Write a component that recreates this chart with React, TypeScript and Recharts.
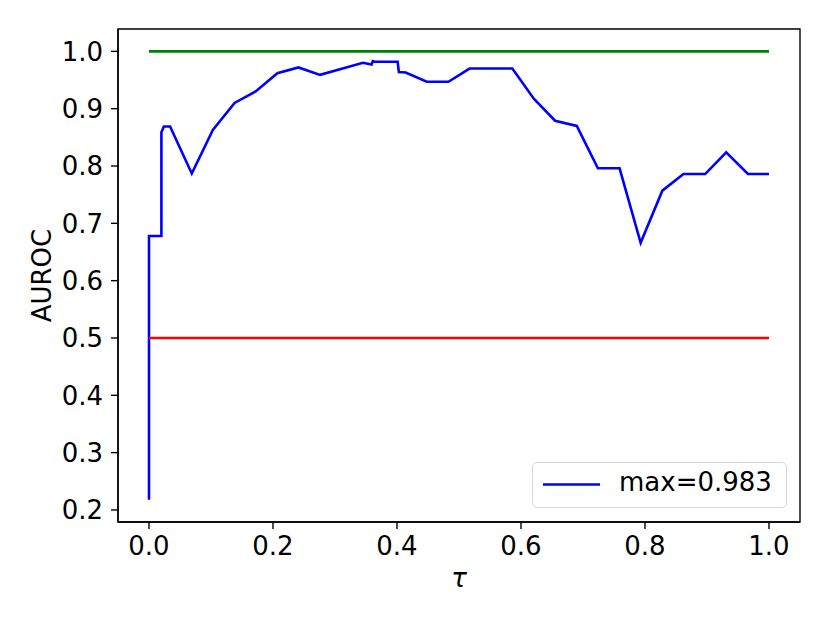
import React from "react";
import { LineChart, Line, XAxis, YAxis, Legend, ReferenceArea } from "recharts";

// tau grid and AUROC values
const tau = [
  0, 0, 0.02, 0.02, 0.024, 0.034, 0.069, 0.103, 0.138, 0.172, 0.207, 0.241, 0.276, 0.345, 0.359, 0.361,
  0.364, 0.401, 0.403, 0.414, 0.448, 0.483, 0.517, 0.552, 0.586, 0.621, 0.655, 0.69, 0.724, 0.759, 0.793,
  0.828, 0.862, 0.897, 0.931, 0.966, 1.0,
];
const auroc = [
  0.218, 0.678, 0.678, 0.859, 0.869, 0.869, 0.787, 0.863, 0.91, 0.93, 0.962, 0.972, 0.959, 0.98, 0.977, 0.983,
  0.982, 0.982, 0.964, 0.963, 0.947, 0.947, 0.97, 0.97, 0.97, 0.917, 0.879, 0.87, 0.796, 0.796, 0.666,
  0.757, 0.786, 0.786, 0.824, 0.786, 0.786,
];
const perfectLine = [1.0, 1.0];
const randomLine = [0.5, 0.5];
const baseTau = [0, 1];

const xTicks = [0, 0.2, 0.4, 0.6, 0.8, 1.0];
const yTicks = [0.2, 0.3, 0.4, 0.5, 0.6, 0.7, 0.8, 0.9, 1.0];
const legendLabel = "max=0.983";

// matplotlib-style auto limits (5% margin)
const xDomain = [-0.05, 1.05];
const yDomain = [0.179, 1.039];

const curve = tau.map((t, i) => ({ tau: t, v: auroc[i] }));
const perfect = baseTau.map((t, i) => ({ tau: t, v: perfectLine[i] }));
const random = baseTau.map((t, i) => ({ tau: t, v: randomLine[i] }));

const FONT = "DejaVu Sans";
const FS = 26;
const LW = 2.6;

function LegendBox() {
  return (
    <div
      style={{
        width: 255,
        height: 46,
        boxSizing: "border-box",
        border: "1.3px solid #d6d6d6",
        borderRadius: 5,
        background: "rgba(255,255,255,0.8)",
        position: "relative",
        fontFamily: FONT,
      }}
    >
      <svg width={70} height={46} style={{ position: "absolute", left: 0, top: 0 }}>
        <line x1={10} x2={67} y1={21.5} y2={21.5} stroke="#0000ff" strokeWidth={LW} />
      </svg>
      <span
        style={{
          position: "absolute",
          left: 86,
          top: 4,
          fontSize: FS,
          lineHeight: "30px",
          color: "#000",
          whiteSpace: "nowrap",
        }}
      >
        {legendLabel}
      </span>
    </div>
  );
}

export default function App() {
  return (
    <div style={{ position: "absolute", left: 0, top: 0, background: "#fff" }}>
      <LineChart width={830} height={623} margin={{ top: 29, right: 30, bottom: 0, left: 0 }}>
        <XAxis
          dataKey="tau"
          type="number"
          domain={xDomain}
          ticks={xTicks}
          tickFormatter={(v: number) => v.toFixed(1)}
          allowDuplicatedCategory={false}
          height={101}
          tickSize={7}
          tickMargin={8}
          stroke="#000"
          axisLine={{ stroke: "#000", strokeWidth: 1.4 }}
          tickLine={{ stroke: "#000", strokeWidth: 1.4 }}
          tick={{ fill: "#000", fontSize: FS, fontFamily: FONT }}
          label={({ viewBox }: any) => (
            <text
              x={viewBox.x + viewBox.width / 2}
              y={viewBox.y + 65}
              textAnchor="middle"
              fontSize={FS}
              fontFamily={FONT}
              fontStyle="italic"
              fill="#000"
            >
              τ
            </text>
          )}
        />
        <YAxis
          dataKey="v"
          type="number"
          domain={yDomain}
          ticks={yTicks}
          tickFormatter={(v: number) => v.toFixed(1)}
          width={118}
          tickSize={7}
          tickMargin={8}
          axisLine={{ stroke: "#000", strokeWidth: 1.4 }}
          tickLine={{ stroke: "#000", strokeWidth: 1.4 }}
          tick={{ fill: "#000", fontSize: FS, fontFamily: FONT }}
          label={({ viewBox }: any) => {
            const cy = viewBox.y + viewBox.height / 2;
            return (
              <text
                x={51}
                y={cy}
                transform={`rotate(-90, 51, ${cy})`}
                textAnchor="middle"
                fontSize={FS}
                fontFamily={FONT}
                fill="#000"
              >
                AUROC
              </text>
            );
          }}
        />
        <Line
          data={curve}
          dataKey="v"
          name={legendLabel}
          stroke="#0000ff"
          strokeWidth={LW}
          dot={false}
          activeDot={false}
          isAnimationActive={false}
        />
        <Line
          data={perfect}
          dataKey="v"
          legendType="none"
          stroke="#008000"
          strokeWidth={LW}
          dot={false}
          activeDot={false}
          isAnimationActive={false}
        />
        <Line
          data={random}
          dataKey="v"
          legendType="none"
          stroke="#ff0000"
          strokeWidth={LW}
          dot={false}
          activeDot={false}
          isAnimationActive={false}
        />
        {/* axes frame */}
        <ReferenceArea
          x1={xDomain[0]}
          x2={xDomain[1]}
          y1={yDomain[0]}
          y2={yDomain[1]}
          fill="none"
          fillOpacity={0}
          stroke="#000"
          strokeWidth={1.4}
          ifOverflow="visible"
        />
        <Legend
          layout="horizontal"
          verticalAlign="middle"
          align="center"
          content={() => <LegendBox />}
          wrapperStyle={{ position: "absolute", left: 532, top: 462, width: 255, height: 46 }}
        />
      </LineChart>
    </div>
  );
}
